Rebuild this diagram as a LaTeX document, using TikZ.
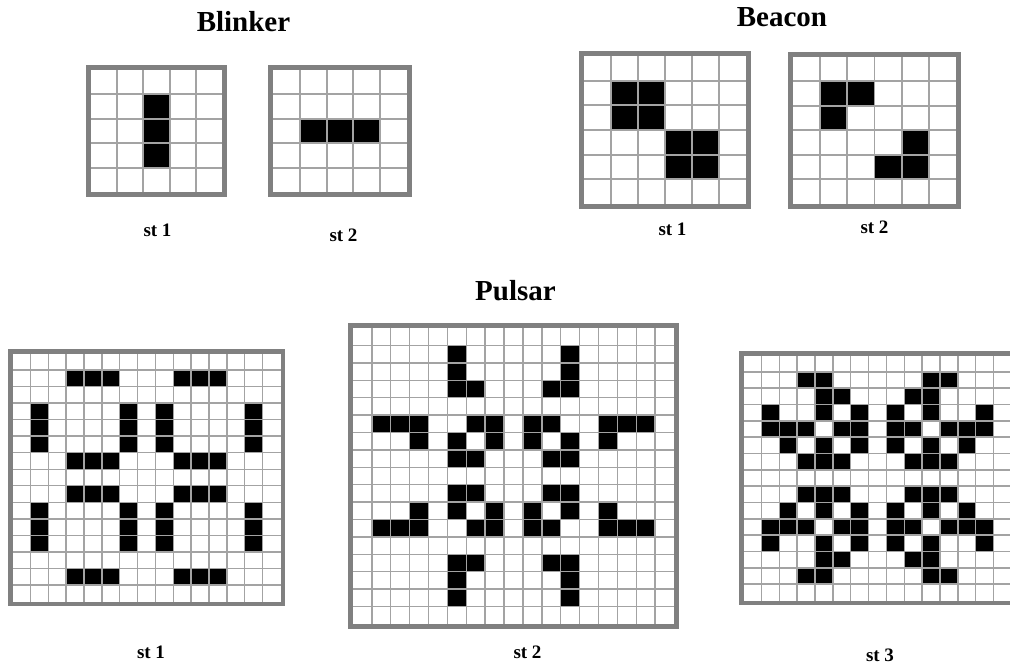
\documentclass[tikz,border=0pt]{standalone}
\usepackage{fontspec}
\setmainfont{Liberation Serif}
\tikzset{
  gridline/.style={draw=gray!72!white, line width=1.9pt},
  frame/.style={draw=gray},
  title/.style={font=\fontsize{29}{29}\selectfont\bfseries, anchor=base, inner sep=0pt},
  stlabel/.style={font=\fontsize{19}{19}\selectfont\bfseries, anchor=base, inner sep=0pt},
}
% #1 x0, #2 y0, #3 x1, #4 y1 (outer edges), #5 cols, #6 rows, #7 frame width, #8 cell code
\newcommand{\lifegrid}[8]{%
  \pgfmathsetmacro{\gxa}{#1+#7}%
  \pgfmathsetmacro{\gya}{#2+#7}%
  \pgfmathsetmacro{\gxb}{#3-#7}%
  \pgfmathsetmacro{\gyb}{#4-#7}%
  \pgfmathsetmacro{\gcw}{(\gxb-\gxa)/#5}%
  \pgfmathsetmacro{\gch}{(\gyb-\gya)/#6}%
  \pgfmathtruncatemacro{\gnc}{#5-1}%
  \pgfmathtruncatemacro{\gnr}{#6-1}%
  \fill[white] (#1,#2) rectangle (#3,#4);
  #8
  \foreach \ii in {1,...,\gnc}{\draw[gridline] (\gxa+\ii*\gcw,\gya) -- (\gxa+\ii*\gcw,\gyb);}
  \foreach \ii in {1,...,\gnr}{\draw[gridline] (\gxa,\gya+\ii*\gch) -- (\gxb,\gya+\ii*\gch);}
  \draw[frame, line width=#7pt] (#1+#7/2,#2+#7/2) rectangle (#3-#7/2,#4-#7/2);
}
% fill the cells: columns #1 x rows #2
\newcommand{\lgcells}[2]{%
  \foreach \rr in {#2}{\foreach \cc in {#1}{\fill[black] (\gxa+\cc*\gcw,\gya+\rr*\gch) rectangle ++(\gcw,\gch);}}%
}
\begin{document}
\begin{tikzpicture}[x=1pt,y=-1pt]
\useasboundingbox (0,0) rectangle (1010,664);
\clip (0,0) rectangle (1010,664);
\fill[white] (0,0) rectangle (1010,664);

% Titles
\node[title] (tblinker) at (243.5,31) {Blinker};
\node[title] (tbeacon) at (782,26) {Beacon};
\node[title] (tpulsar) at (515.5,300) {Pulsar};

% Blinker
\lifegrid{86}{65}{227}{197}{5}{5}{5}{\lgcells{2}{1,2,3}}
\lifegrid{268}{65}{412}{197}{5}{5}{5}{\lgcells{1,2,3}{2}}
\node[stlabel] (bl1) at (157.5,236) {st 1};
\node[stlabel] (bl2) at (343.5,241) {st 2};

% Beacon
\lifegrid{579}{51}{751}{209}{6}{6}{5}{\lgcells{1,2}{1,2}\lgcells{3,4}{3,4}}
\lifegrid{788}{51.5}{961}{209}{6}{6}{5}{\lgcells{1,2}{1}\lgcells{1}{2}\lgcells{4}{3}\lgcells{3,4}{4}}
\node[stlabel] (be1) at (672.5,235) {st 1};
\node[stlabel] (be2) at (874.5,233) {st 2};

% Pulsar
\begin{scope}[gridline/.append style={line width=1.4pt}]
\lifegrid{8}{349}{285}{606}{15}{15}{4.5}{%
  \lgcells{3,4,5,9,10,11}{1,6,8,13}%
  \lgcells{1,6,8,13}{3,4,5,9,10,11}}
\lifegrid{348}{323}{679}{629}{17}{17}{5}{%
  \lgcells{5,11}{1,2,14,15}%
  \lgcells{5,6,10,11}{3,7,9,13}%
  \lgcells{1,2,3,6,7,9,10,13,14,15}{5,11}%
  \lgcells{3,5,7,9,11,13}{6,10}}
\lifegrid{739}{351}{1016}{605}{15}{15}{4.5}{%
  \lgcells{3,4,10,11}{1,13}%
  \lgcells{4,5,9,10}{2,12}%
  \lgcells{1,4,6,8,10,13}{3,11}%
  \lgcells{1,2,3,5,6,8,9,11,12,13}{4,10}%
  \lgcells{2,4,6,8,10,12}{5,9}%
  \lgcells{3,4,5,9,10,11}{6,8}}
\end{scope}
\node[stlabel] (pu1) at (151,658) {st 1};
\node[stlabel] (pu2) at (527.5,658) {st 2};
\node[stlabel] (pu3) at (880,661) {st 3};
\end{tikzpicture}
\end{document}
